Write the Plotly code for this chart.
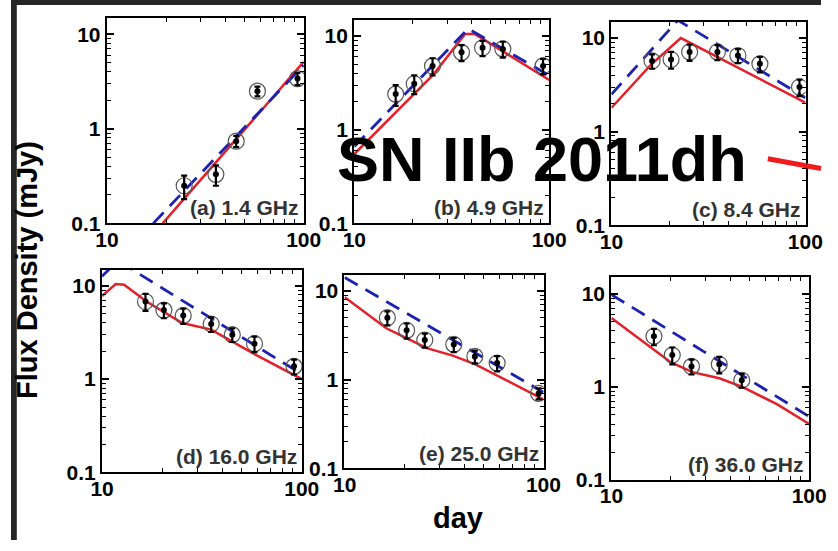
import plotly.graph_objects as go

# ---- observed flux densities (mJy) vs. days since explosion ----
days_a = [24.7, 35.8, 45.4, 58.2, 93.0]
flux_a = [0.25, 0.33, 0.74, 2.5, 3.4]
err_a = [0.07, 0.08, 0.10, 0.30, 0.50]

days_b = [16.3, 20.3, 25.2, 35.5, 45.5, 57.8, 93.0]
flux_b = [2.4, 3.1, 4.8, 6.7, 7.5, 7.3, 4.8]
err_b = [0.6, 0.7, 1.0, 1.3, 1.4, 1.4, 0.9]

days_c = [16.2, 20.3, 25.3, 35.2, 44.9, 58.3, 93.3]
flux_c = [5.7, 5.9, 7.1, 7.1, 6.5, 5.3, 3.0]
err_c = [1.0, 1.2, 1.4, 1.3, 1.1, 1.0, 0.6]

days_d = [16.5, 20.4, 25.5, 35.2, 44.9, 58.0, 91.5]
flux_d = [6.8, 5.5, 4.8, 3.9, 3.0, 2.4, 1.37]
err_d = [1.4, 1.0, 0.9, 0.7, 0.5, 0.45, 0.25]

days_e = [16.4, 20.5, 25.3, 35.4, 45.2, 58.5, 94.6]
flux_e = [5.0, 3.6, 2.8, 2.5, 1.83, 1.54, 0.70]
err_e = [0.9, 0.7, 0.5, 0.45, 0.3, 0.3, 0.1]

days_f = [16.4, 20.3, 25.4, 35.1, 45.6]
flux_f = [3.5, 2.2, 1.66, 1.75, 1.18]
err_f = [0.7, 0.45, 0.3, 0.35, 0.2]

# ---- model light curves: solid = model 1, dashed = model 2 ----
red_days_a = [19.2, 100]
red_flux_a = [0.1, 5.1]
blue_days_a = [17.2, 100]
blue_flux_a = [0.1, 4.7]

red_days_b = [10, 25.5, 37, 41.6, 100]
red_flux_b = [0.55, 3.9, 10.5, 10.5, 3.4]
blue_days_b = [10, 38.4, 100]
blue_flux_b = [0.66, 12, 3.8]

red_days_c = [10, 16, 22.8, 100]
red_flux_c = [1.8, 5.2, 10, 2.04]
blue_days_c = [10, 22, 100]
blue_flux_c = [2.5, 15.5, 2.3]

red_days_d = [10, 11.7, 12.9, 16.7, 25.2, 35.2, 58.6, 100]
red_flux_d = [7.8, 10.5, 10.3, 6.8, 4.0, 3.4, 1.83, 1.0]
blue_days_d = [10, 12, 100]
blue_flux_d = [12.7, 18.6, 1.13]

red_days_e = [10, 16.2, 20.7, 25.9, 35, 45.2, 100]
red_flux_e = [8.5, 3.8, 2.9, 2.27, 1.87, 1.5, 0.60]
blue_days_e = [10, 100]
blue_flux_e = [14.2, 0.72]

red_days_f = [10, 16, 20, 25.7, 35.1, 45.9, 69, 100]
red_flux_f = [5.5, 2.6, 1.83, 1.44, 1.24, 1.0, 0.65, 0.40]
blue_days_f = [10, 100]
blue_flux_f = [9.8, 0.48]

panel_labels = ["(a) 1.4 GHz", "(b) 4.9 GHz", "(c) 8.4 GHz",
                "(d) 16.0 GHz", "(e) 25.0 GHz", "(f) 36.0 GHz"]

panels = [
    (days_a, flux_a, err_a, red_days_a, red_flux_a, blue_days_a, blue_flux_a),
    (days_b, flux_b, err_b, red_days_b, red_flux_b, blue_days_b, blue_flux_b),
    (days_c, flux_c, err_c, red_days_c, red_flux_c, blue_days_c, blue_flux_c),
    (days_d, flux_d, err_d, red_days_d, red_flux_d, blue_days_d, blue_flux_d),
    (days_e, flux_e, err_e, red_days_e, red_flux_e, blue_days_e, blue_flux_e),
    (days_f, flux_f, err_f, red_days_f, red_flux_f, blue_days_f, blue_flux_f),
]

W, H = 838, 551
# panel boxes in pixels: (left, right, top, bottom)
boxes = [
    (99, 303, 18, 228), (355, 557, 20, 228), (621, 822, 22, 230),
    (94, 301, 275, 482), (345, 551, 281, 478), (621, 826, 283, 490),
]

FONT = "Liberation Sans, Arial, sans-serif"
RED = "#e5202a"
BLUE = "#1e22b0"

fig = go.Figure()
layout = dict(
    width=W, height=H, margin=dict(l=0, r=0, t=0, b=0),
    paper_bgcolor="white", plot_bgcolor="white", showlegend=False,
)

annotations = []
for i, (box, data) in enumerate(zip(boxes, panels)):
    n = "" if i == 0 else str(i + 1)
    xa, ya = "x" + n, "y" + n
    l, r, t, b = box
    days, flux, err, rd, rf, bd, bf = data

    fig.add_trace(go.Scatter(x=rd, y=rf, mode="lines", xaxis=xa, yaxis=ya,
                             line=dict(color=RED, width=2.5)))
    fig.add_trace(go.Scatter(x=bd, y=bf, mode="lines", xaxis=xa, yaxis=ya,
                             line=dict(color=BLUE, width=2.8, dash="15px,9px")))
    fig.add_trace(go.Scatter(x=days, y=flux, mode="markers", xaxis=xa, yaxis=ya,
                             marker=dict(symbol="circle-open", size=16,
                                         color="#555555", line=dict(width=1.2))))
    fig.add_trace(go.Scatter(x=days, y=flux, mode="markers", xaxis=xa, yaxis=ya,
                             marker=dict(symbol="circle", size=6, color="black"),
                             error_y=dict(type="data", array=err, color="black",
                                          thickness=2.2, width=3)))

    common = dict(
        type="log", showline=True, linecolor="black", linewidth=2,
        mirror="allticks", ticks="inside", ticklen=7, tickwidth=1.5,
        tickcolor="black", showgrid=False, dtick=1, tick0=0,
        minor=dict(ticks="inside", ticklen=4, tickwidth=1.2, tickcolor="black",
                   dtick="D1", showgrid=False),
        tickfont=dict(family=FONT, size=21, color="black", weight="bold"),
    )
    layout["xaxis" + n] = dict(common, domain=[l / W, r / W], anchor=ya,
                               range=[0.999, 2.001], ticklabelstandoff=-4)
    layout["yaxis" + n] = dict(common, domain=[1 - b / H, 1 - t / H], anchor=xa,
                               range=[-1.001, 1.176])

    annotations.append(dict(
        text=panel_labels[i], xref=xa + " domain", yref=ya + " domain",
        x=0.985, y=0.01, xanchor="right", yanchor="bottom", showarrow=False,
        font=dict(family=FONT, size=21, color="#333333", weight="bold"),
    ))

annotations += [
    dict(text="Flux Density (mJy)", xref="paper", yref="paper",
         x=16 / W, y=1 - 275 / H, textangle=-90, showarrow=False,
         xanchor="center", yanchor="middle",
         font=dict(family=FONT, size=29, color="black", weight="bold")),
    dict(text="day", xref="paper", yref="paper", x=462 / W, y=1 - 529 / H,
         showarrow=False, xanchor="center", yanchor="middle",
         font=dict(family=FONT, size=29, color="black", weight="bold")),
    dict(text="SN IIb 2011dh", xref="paper", yref="paper", x=549 / W,
         y=1 - 162 / H, showarrow=False, xanchor="center", yanchor="middle",
         font=dict(family=FONT, size=63, color="black", weight="bold")),
]
layout["annotations"] = annotations

layout["shapes"] = [
    # dark slide frame along the top and left edges
    dict(type="rect", xref="paper", yref="paper", x0=0, x1=1,
         y0=1 - 5 / H, y1=1, fillcolor="#262626", line=dict(width=0), layer="above"),
    dict(type="rect", xref="paper", yref="paper", x0=0, x1=6 / W,
         y0=0, y1=1, fillcolor="#262626", line=dict(width=0), layer="above"),
    # pointer line beside the title
    dict(type="line", xref="paper", yref="paper", x0=783 / W, y0=1 - 162 / H,
         x1=1, y1=1 - 172 / H, line=dict(color="#ee1c1c", width=5)),
]

fig.update_layout(**layout)
fig.write_html("out.html")
